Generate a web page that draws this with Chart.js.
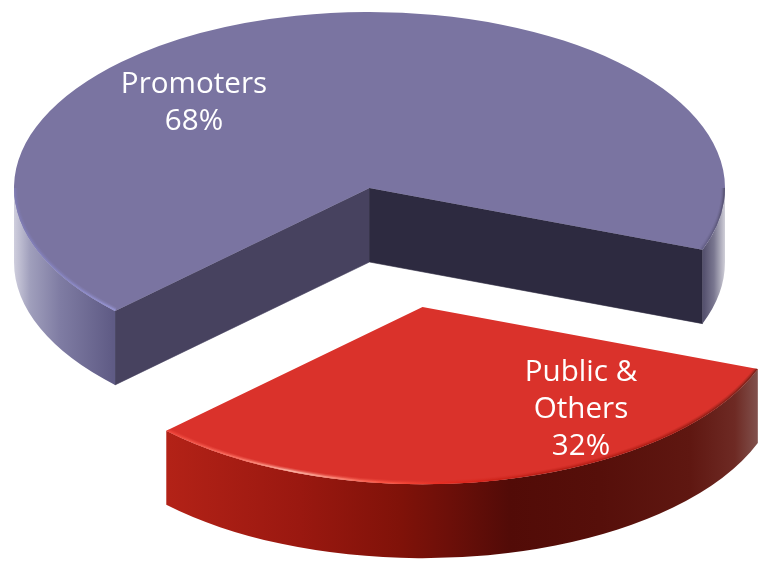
<!DOCTYPE html>
<html>
<head>
<meta charset="utf-8">
<title>Shareholding</title>
<script src="https://cdn.jsdelivr.net/npm/chart.js@4"></script>
<style>
    html, body { margin: 0; padding: 0; background: #fff; }
    canvas { display: block; }
</style>
</head>
<body>
<canvas id="main" width="760" height="562"></canvas>
<script>
// Données
const categories = ['Promoters', 'Public & Others'];
const shares = [68, 32];
const labelLines = [['Promoters', '68%'], ['Public &', 'Others', '32%']];
const topColors = ['#7a74a1', '#da322b'];

// Réglages de la perspective
const CENTER_X = 369.5;
const CENTER_Y = 188;
const SQUASH = 0.495;
const DEPTH = 74;
const EXPLODE = [[0, 0], [53, 119]];
const RADIUS_GROW = [1, 1.007];
const START_ANGLE = 225.7;
const TAU = Math.PI * 2;

const wallStops = [
    [[14, '#cfcedd'], [30, '#a09fbc'], [60, '#7f7ca3'], [113, '#5f5b85'], [704, '#56526f'], [714, '#7a7790'], [725, '#d0cfd8']],
    [[166, '#b32217'], [300, '#9a1810'], [400, '#801209'], [450, '#6c0f09'], [510, '#520b07'], [600, '#560f0a'], [690, '#5f1711'], [735, '#6e2a24'], [757, '#80504b']]
];
const rimStops = [
    [[14, '#7f7cb4'], [60, '#8886c4'], [113, '#9896d6'], [704, '#645f86'], [725, '#55516f']],
    [[166, '#f0443a'], [240, '#ff7a6a'], [290, '#ffc4b4'], [380, '#ff5a48'], [450, '#e3271c'], [540, '#b81c14'], [660, '#a81a12'], [757, '#6e2018']]
];
const faceColors = [['#47425f', '#2d2a40'], [null, null]];

function horizontalGradient(ctx, stops) {
    const first = stops[0][0];
    const last = stops[stops.length - 1][0];
    const gradient = ctx.createLinearGradient(first, 0, last, 0);
    stops.forEach(([x, color]) => gradient.addColorStop((x - first) / (last - first), color));
    return gradient;
}

/** Parties de l'arc tournées vers le spectateur (moitié basse de l'ellipse). */
function visibleParts(start, end) {
    const parts = [];
    for (let k = 0; k < 2; k++) {
        const from = Math.max(start, k * TAU);
        const to = Math.min(end, k * TAU + Math.PI);
        if (to > from) parts.push([from, to]);
    }
    return parts;
}

function drawFace(ctx, cx, cy, radius, angle, color) {
    const ex = cx + Math.cos(angle) * radius;
    const ey = cy + Math.sin(angle) * radius * SQUASH;
    ctx.fillStyle = color;
    ctx.strokeStyle = color;
    ctx.lineWidth = 0.6;
    ctx.beginPath();
    ctx.moveTo(cx, cy);
    ctx.lineTo(ex, ey);
    ctx.lineTo(ex, ey + DEPTH);
    ctx.lineTo(cx, cy + DEPTH);
    ctx.closePath();
    ctx.fill();
    ctx.stroke();
}

function drawSlice(ctx, arc, index) {
    const cx = CENTER_X + EXPLODE[index][0];
    const cy = CENTER_Y + EXPLODE[index][1];
    const grow = RADIUS_GROW[index];
    const radius = arc.outerRadius * grow;
    const ry = radius * SQUASH;

    // Faces coupées
    if (Math.sin(arc.startAngle - Math.PI / 2) > 0 && faceColors[index][0]) {
        drawFace(ctx, cx, cy, radius, arc.startAngle, faceColors[index][0]);
    }
    if (Math.sin(arc.endAngle + Math.PI / 2) > 0 && faceColors[index][1]) {
        drawFace(ctx, cx, cy, radius, arc.endAngle, faceColors[index][1]);
    }

    // Paroi extérieure
    const parts = visibleParts(arc.startAngle, arc.endAngle);
    ctx.fillStyle = horizontalGradient(ctx, wallStops[index]);
    parts.forEach(([from, to]) => {
        ctx.beginPath();
        ctx.ellipse(cx, cy, radius, ry, 0, from, to);
        ctx.ellipse(cx, cy + DEPTH, radius, ry, 0, to, from, true);
        ctx.closePath();
        ctx.fill();
    });

    // Dessus, dessiné par l'élément arc de Chart.js
    ctx.save();
    ctx.translate(cx, cy);
    ctx.scale(grow, SQUASH * grow);
    ctx.translate(-arc.x, -arc.y);
    arc.draw(ctx);
    ctx.restore();

    // Biseau sur le bord
    ctx.save();
    ctx.beginPath();
    ctx.moveTo(cx, cy);
    ctx.ellipse(cx, cy, radius, ry, 0, arc.startAngle, arc.endAngle);
    ctx.closePath();
    ctx.clip();
    ctx.strokeStyle = horizontalGradient(ctx, rimStops[index]);
    parts.forEach(([from, to]) => {
        [[7, 0.18], [5, 0.3], [3, 0.75]].forEach(([width, alpha]) => {
            ctx.globalAlpha = alpha;
            ctx.lineWidth = width;
            ctx.beginPath();
            ctx.ellipse(cx, cy, radius, ry, 0, from, to);
            ctx.stroke();
        });
    });
    ctx.restore();
}

const pie3d = {
    id: 'pie3d',
    beforeDatasetsDraw(chart) {
        const ctx = chart.ctx;
        chart.getDatasetMeta(0).data.forEach((arc, i) => drawSlice(ctx, arc, i));
        return false;
    },
    afterDraw(chart) {
        const ctx = chart.ctx;
        const anchors = [[194, 93], [581, 381]];
        ctx.save();
        ctx.fillStyle = '#fff';
        ctx.font = '29.6px "Open Sans"';
        ctx.textAlign = 'center';
        ctx.textBaseline = 'alphabetic';
        labelLines.forEach((lines, i) => {
            lines.forEach((line, n) => ctx.fillText(line, anchors[i][0], anchors[i][1] + n * 37));
        });
        ctx.restore();
    }
};

new Chart(document.getElementById('main').getContext('2d'), {
    type: 'pie',
    data: {
        labels: categories,
        datasets: [{
            data: shares,
            backgroundColor: topColors,
            borderWidth: 0
        }]
    },
    options: {
        responsive: false,
        animation: false,
        radius: 355.5,
        rotation: START_ANGLE,
        plugins: { legend: { display: false }, tooltip: { enabled: false } }
    },
    plugins: [pie3d]
});
</script>
</body>
</html>
